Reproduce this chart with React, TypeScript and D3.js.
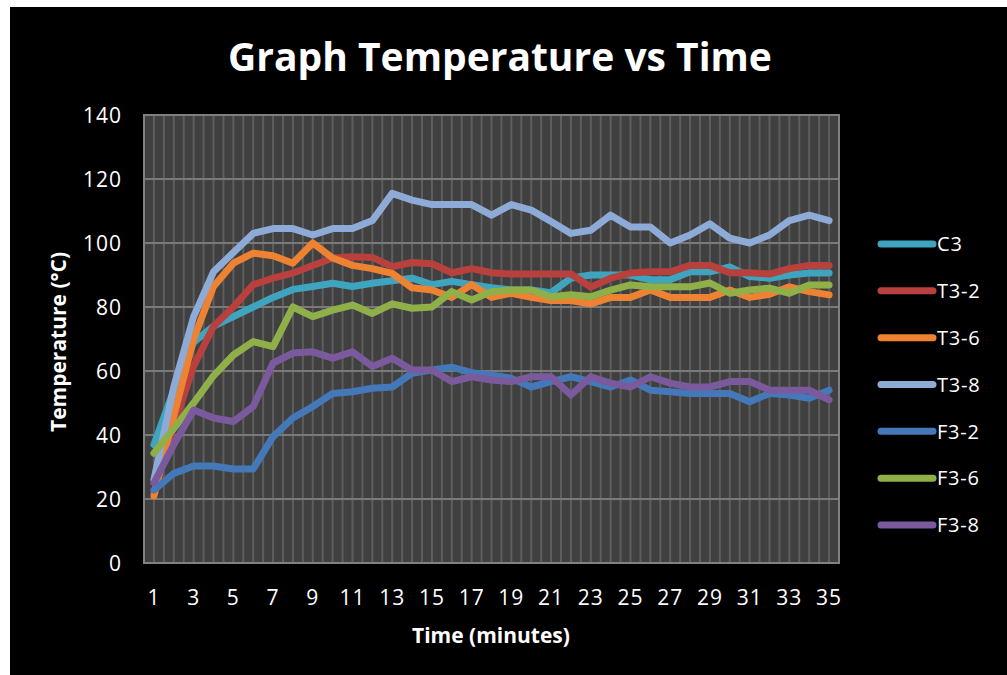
import React, { useEffect, useRef } from "react";
import * as d3 from "d3";

const minutes: number[] = Array.from({ length: 35 }, (_, i) => i + 1);
const yTicks: number[] = [0, 20, 40, 60, 80, 100, 120, 140];
const xTickLabels: number[] = [1, 3, 5, 7, 9, 11, 13, 15, 17, 19, 21, 23, 25, 27, 29, 31, 33, 35];

const seriesNames: string[] = ["C3", "T3-2", "T3-6", "T3-8", "F3-2", "F3-6", "F3-8"];
const seriesColors: string[] = ["#3fa5bf", "#b8403d", "#ee8233", "#8eaad6", "#4478b8", "#8fb049", "#7a5a9c"];

const c3: number[] = [37, 54, 69, 74, 77, 80, 83, 85.5, 86.4, 87.4, 86.4, 87.4, 88.2, 89, 87, 88, 87, 86, 85.3, 85.3, 84.5, 89, 90, 90, 90, 88.5, 88.5, 91, 91, 92.5, 89.5, 89, 90, 90.6, 90.6];
const t32: number[] = [22, 43, 61.5, 74, 80, 87, 89, 90.6, 93, 95.3, 95.7, 95.5, 92.6, 93.9, 93.5, 90.7, 92, 90.7, 90.3, 90.3, 90.3, 90.3, 86.2, 89, 90.6, 91, 91, 93, 93, 90.7, 90.7, 90.3, 92, 93, 93];
const t36: number[] = [21, 46, 70, 86.4, 93.7, 96.8, 96, 93.7, 100, 95.3, 93, 92, 90.5, 86, 85.3, 83, 87, 83, 84.3, 83, 82, 82, 81, 83, 83, 85.3, 83, 83, 83, 85.3, 83, 84, 86.3, 84.8, 83.8];
const t38: number[] = [26, 55, 77, 91, 97, 103, 104.5, 104.5, 102.5, 104.5, 104.5, 107, 115.5, 113.4, 112, 112, 112, 108.7, 112, 110.3, 106.7, 103, 104, 108.7, 105, 105, 100, 102.5, 106, 101.5, 100, 102.5, 107, 108.7, 107];
const f32: number[] = [22.8, 28, 30.3, 30.3, 29.4, 29.4, 39.5, 45.3, 48.9, 53, 53.5, 54.6, 55, 59.3, 60.3, 61.2, 59.5, 58.7, 57.7, 55, 56.7, 58.2, 56.7, 55, 57.2, 54, 53.5, 53, 53, 53, 50.4, 53, 52.5, 51.5, 54];
const f36: number[] = [34.3, 42, 50, 58.5, 65, 69.2, 67.6, 80, 77, 79, 80.6, 78, 81, 79.6, 80, 84.8, 82.2, 84.8, 85.3, 85.3, 83.2, 83.8, 83.2, 85.3, 86.9, 86.3, 86.3, 86.3, 87.5, 84.3, 85.3, 85.9, 84.3, 86.9, 86.9];
const f38: number[] = [25, 37, 47.8, 45.3, 44.2, 48.9, 62.5, 65.6, 66, 64, 66, 61.4, 64, 60.3, 60.3, 56.7, 58.2, 57.2, 56.7, 58.2, 58.2, 52.5, 58.2, 56.2, 55, 58.2, 56.2, 55, 55, 56.7, 56.7, 54, 54, 54, 51];

const seriesValues: number[][] = [c3, t32, t36, t38, f32, f36, f38];

const W = 1007;
const H = 675;
const plot = { left: 144, right: 839, top: 115, bottom: 563 };
const FONT = "'Open Sans', 'DejaVu Sans', sans-serif";

export default function App() {
  const ref = useRef<SVGSVGElement | null>(null);

  useEffect(() => {
    const svg = d3.select(ref.current);
    svg.selectAll("*").remove();

    svg.append("rect").attr("x", 0).attr("y", 0).attr("width", W).attr("height", H).attr("fill", "#ffffff");
    svg.append("rect").attr("x", 10).attr("y", 7).attr("width", W - 10).attr("height", H - 7).attr("fill", "#000000");

    const x = d3.scaleBand<number>().domain(minutes).range([plot.left, plot.right]).paddingInner(0).paddingOuter(0);
    const cx = (m: number) => (x(m) as number) + x.bandwidth() / 2;
    const y = d3.scaleLinear().domain([0, 140]).range([plot.bottom, plot.top]);

    svg.append("rect")
      .attr("x", plot.left).attr("y", plot.top)
      .attr("width", plot.right - plot.left).attr("height", plot.bottom - plot.top)
      .attr("fill", "#404040");

    // vertical gridlines at category centers and boundaries
    const vg = svg.append("g");
    const halfSteps: number[] = [];
    minutes.forEach((m) => {
      halfSteps.push(cx(m));
      halfSteps.push((x(m) as number) + x.bandwidth());
    });
    vg.selectAll("line").data(halfSteps).enter().append("line")
      .attr("x1", (d) => d).attr("x2", (d) => d)
      .attr("y1", plot.top).attr("y2", plot.bottom)
      .attr("stroke", "#5e5e5e").attr("stroke-width", 2);

    // horizontal gridlines
    svg.append("g").selectAll("line").data(yTicks).enter().append("line")
      .attr("x1", plot.left).attr("x2", plot.right)
      .attr("y1", (d) => y(d)).attr("y2", (d) => y(d))
      .attr("stroke", "#7a7a7a").attr("stroke-width", 2);

    svg.append("rect")
      .attr("x", plot.left).attr("y", plot.top)
      .attr("width", plot.right - plot.left).attr("height", plot.bottom - plot.top)
      .attr("fill", "none").attr("stroke", "#808080").attr("stroke-width", 2);

    // y tick labels
    svg.append("g").selectAll("text").data(yTicks).enter().append("text")
      .attr("x", 122).attr("y", (d) => y(d))
      .attr("dy", "0.36em").attr("text-anchor", "end")
      .attr("fill", "#ffffff").attr("font-family", FONT).attr("font-size", 21)
      .attr("letter-spacing", 1)
      .text((d) => String(d));

    // x tick labels
    svg.append("g").selectAll("text").data(xTickLabels).enter().append("text")
      .attr("x", (d) => cx(d)).attr("y", 597)
      .attr("dy", "0.36em").attr("text-anchor", "middle")
      .attr("fill", "#ffffff").attr("font-family", FONT).attr("font-size", 21)
      .attr("letter-spacing", 1)
      .text((d) => String(d));

    // lines
    const line = d3.line<number>()
      .x((_, i) => cx(minutes[i]))
      .y((d) => y(d));
    const lg = svg.append("g");
    seriesValues.forEach((vals, si) => {
      lg.append("path")
        .attr("d", line(vals) as string)
        .attr("fill", "none")
        .attr("stroke", seriesColors[si])
        .attr("stroke-width", 7)
        .attr("stroke-linejoin", "round")
        .attr("stroke-linecap", "round");
    });

    // legend
    const legY = d3.scalePoint<string>().domain(seriesNames).range([244, 525]);
    const leg = svg.append("g");
    seriesNames.forEach((name, i) => {
      const yy = legY(name) as number;
      leg.append("line")
        .attr("x1", 881).attr("x2", 933).attr("y1", yy).attr("y2", yy)
        .attr("stroke", seriesColors[i]).attr("stroke-width", 7).attr("stroke-linecap", "round");
      leg.append("text")
        .attr("x", 937).attr("y", yy).attr("dy", "0.36em")
        .attr("fill", "#ffffff").attr("font-family", FONT).attr("font-size", 20)
        .attr("letter-spacing", 0.8)
        .text(name);
    });

    // title
    svg.append("text")
      .attr("x", 500).attr("y", 57).attr("dy", "0.36em")
      .attr("text-anchor", "middle")
      .attr("fill", "#ffffff").attr("font-family", FONT).attr("font-weight", "bold").attr("font-size", 39)
      .text("Graph Temperature vs Time");

    // axis titles
    svg.append("text")
      .attr("x", 491).attr("y", 635).attr("dy", "0.36em")
      .attr("text-anchor", "middle")
      .attr("fill", "#ffffff").attr("font-family", FONT).attr("font-weight", "bold").attr("font-size", 21)
      .text("Time (minutes)");

    svg.append("text")
      .attr("transform", "translate(58,342) rotate(-90)")
      .attr("dy", "0.36em")
      .attr("text-anchor", "middle")
      .attr("fill", "#ffffff").attr("font-family", FONT).attr("font-weight", "bold").attr("font-size", 21)
      .text("Temperature (°C)");
  }, []);

  return (
    <svg
      ref={ref}
      width={W}
      height={H}
      style={{ position: "absolute", left: 0, top: 0, display: "block" }}
    />
  );
}
